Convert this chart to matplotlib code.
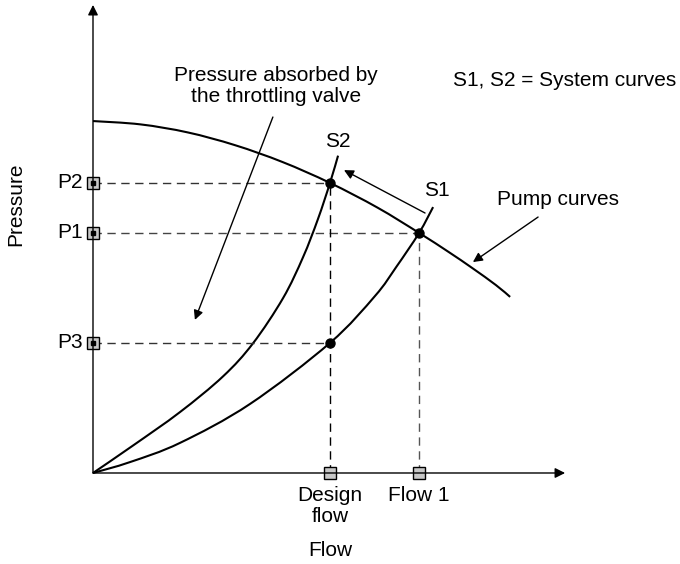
import matplotlib.pyplot as plt
from matplotlib.path import Path
from matplotlib.patches import PathPatch

plt.rcParams['font.family'] = ['Liberation Sans', 'DejaVu Sans']
plt.rcParams['font.size'] = 15

# pump curve (flow, pressure), arbitrary units
pump_q = [0, 20, 40, 60, 80, 100, 120, 137.6, 150, 160, 170, 176]
pump_p = [148.5, 147.1, 143.7, 138.3, 131.2, 122.4, 112, 101.3, 93.3, 86.5, 79.3, 74.3]

# system curve S1 (open valve)
s1_q = [0, 15.6, 36.7, 66.2, 100, 119, 128, 137.6, 143.5]
s1_p = [0, 4.6, 12.7, 29.1, 54.9, 74.7, 87, 101.3, 112.2]

# system curve S2 (throttled)
s2_q = [0, 16.9, 36.7, 54.9, 67.5, 80.2, 88.6, 94.9, 100, 103.4]
s2_p = [0, 11.6, 25.7, 40.8, 54.7, 73.8, 91, 107.1, 122.4, 133.9]

design_flow = 100
flow_1 = 137.6
p2 = 122.4
p1 = 101.3
p3 = 54.9


def smooth_curve(ax, xs, ys, **kw):
    # catmull-rom through the points, drawn as cubic bezier segments
    pts = list(zip(xs, ys))
    verts = [pts[0]]
    codes = [Path.MOVETO]
    n = len(pts)
    for i in range(n - 1):
        p0 = pts[max(i - 1, 0)]
        p1_ = pts[i]
        p2_ = pts[i + 1]
        p3_ = pts[min(i + 2, n - 1)]
        c1 = (p1_[0] + (p2_[0] - p0[0]) / 6, p1_[1] + (p2_[1] - p0[1]) / 6)
        c2 = (p2_[0] - (p3_[0] - p1_[0]) / 6, p2_[1] - (p3_[1] - p1_[1]) / 6)
        verts += [c1, c2, p2_]
        codes += [Path.CURVE4] * 3
    ax.add_patch(PathPatch(Path(verts, codes), fill=False, **kw))


fig = plt.figure(figsize=(6.8, 5.64), dpi=100)
ax = fig.add_axes([0, 0, 1, 1])
ax.set_xlim(-39.24, 247.68)
ax.set_ylim(-38.4, 199.58)
ax.axis('off')

# axes with arrow heads
axis_arrow = dict(arrowstyle='-|>', color='black', lw=1.0, mutation_scale=15, shrinkA=0, shrinkB=0)
ax.annotate('', xy=(199.2, 0), xytext=(0, 0), arrowprops=axis_arrow)
ax.annotate('', xy=(0, 197.5), xytext=(0, 0), arrowprops=axis_arrow)

# curves
smooth_curve(ax, pump_q, pump_p, ec='black', lw=1.5)
smooth_curve(ax, s1_q, s1_p, ec='black', lw=1.5)
smooth_curve(ax, s2_q, s2_p, ec='black', lw=1.5)

# dashed guide lines
dash = dict(lw=1.0, dashes=(6, 4))
ax.plot([0, design_flow], [p2, p2], color='#333333', **dash)
ax.plot([0, flow_1], [p1, p1], color='#444444', **dash)
ax.plot([0, design_flow], [p3, p3], color='#333333', **dash)
ax.plot([design_flow, design_flow], [0, p2], color='black', **dash)
ax.plot([flow_1, flow_1], [0, p1], color='#555555', **dash)

# operating points
ax.plot([design_flow, flow_1, design_flow], [p2, p1, p3], 'o', color='black', ms=6.5)

# markers on the axes
ax.plot([0, 0, 0], [p2, p1, p3], 's', ms=8, mfc='#c8c8c8', mec='black', mew=1.0)
ax.plot([0, 0, 0], [p2, p1, p3], 's', ms=2.8, color='black')
ax.plot([design_flow, flow_1], [0, 0], 's', ms=9, mfc='#c8c8c8', mec='black', mew=1.0)

# axis point labels
for name, val in [('P2', p2), ('P1', p1), ('P3', p3)]:
    ax.text(-4.2, val, name, ha='right', va='center')
ax.text(design_flow, -5.5, 'Design\nflow', ha='center', va='top', linespacing=1.1)
ax.text(flow_1, -5.5, 'Flow 1', ha='center', va='top')
ax.text(design_flow, -32.9, 'Flow', ha='center', va='center')
ax.text(-32.5, 113.5, 'Pressure', rotation=90, ha='center', va='center')

# annotations
thin = dict(arrowstyle='-|>', color='black', lw=1.0, mutation_scale=14, shrinkA=0, shrinkB=0)
ax.text(77.2, 163.3, 'Pressure absorbed by\nthe throttling valve', ha='center', va='center', linespacing=1.1)
ax.annotate('', xy=(43, 64.6), xytext=(75.9, 150.2), arrowprops=thin)
ax.annotate('', xy=(105.9, 127.8), xytext=(140.1, 109.7), arrowprops=thin)
ax.text(103.4, 139.7, 'S2', ha='center', va='center')
ax.text(145.1, 119.4, 'S1', ha='center', va='center')
ax.text(170.5, 115.6, 'Pump curves', ha='left', va='center')
ax.annotate('', xy=(160.3, 89), xytext=(187.8, 108), arrowprops=thin)
ax.text(246, 165.8, 'S1, S2 = System curves', ha='right', va='center')

fig.savefig('out.png', dpi=100)
